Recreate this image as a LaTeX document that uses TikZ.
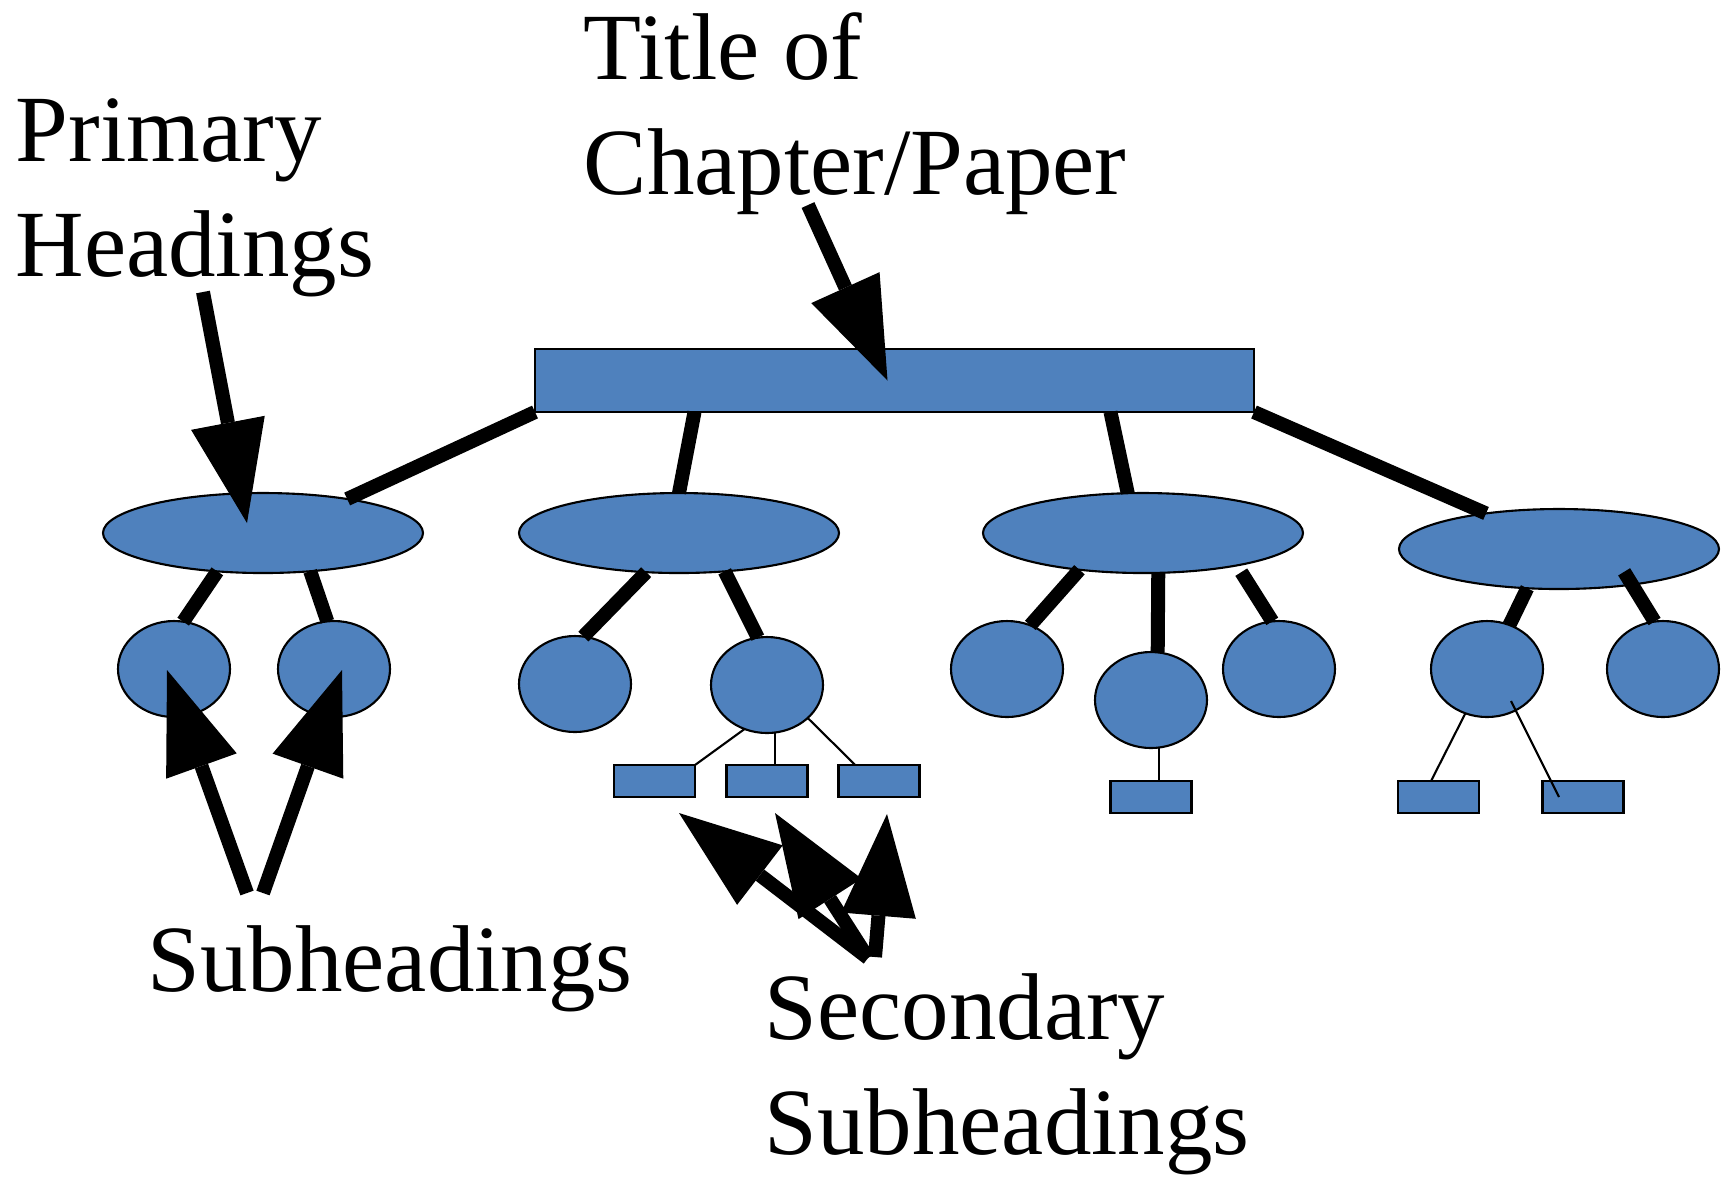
\documentclass[tikz,border=0pt]{standalone}
\usepackage{fontspec}
\setmainfont{Liberation Serif}
\usetikzlibrary{shapes.geometric,arrows.meta,calc}
\definecolor{nodeblue}{HTML}{4F81BD}

\begin{document}
\begin{tikzpicture}[x=0.1mm, y=-0.1mm,
    shapebox/.style={draw, fill=nodeblue, line width=0.6pt, inner sep=0pt, outer sep=0pt},
    headnode/.style={shapebox, ellipse, minimum width=32mm, minimum height=8mm},
    subnode/.style={shapebox, ellipse, minimum width=11.2mm, minimum height=9.6mm},
    leafnode/.style={shapebox, rectangle, minimum width=8.1mm, minimum height=3.2mm},
    thickline/.style={line width=1.4mm},
    thinline/.style={line width=0.6pt},
    pointer/.style={line width=1.4mm, -{Triangle[length=10.2mm, width=7.5mm, line width=0pt]}},
    caption/.style={font=\fontsize{27}{32.7}\selectfont, inner sep=0pt, anchor=base west, align=left}]
  \useasboundingbox (0,0) rectangle (1730,1181);

  \node[shapebox, minimum width=71.9mm, minimum height=6.3mm] (bar) at (894.5,380.5) {};

  \node[headnode] (e1) at (263,533) {};
  \node[headnode] (e2) at (679,533) {};
  \node[headnode] (e3) at (1143,533) {};
  \node[headnode] (e4) at (1559,549) {};

  \node[subnode] (c11) at (174,669) {};
  \node[subnode] (c12) at (334,669) {};
  \node[subnode] (c21) at (575,684) {};
  \node[subnode] (c22) at (767,685) {};
  \node[subnode] (c31) at (1007,669) {};
  \node[subnode] (c32) at (1151,700) {};
  \node[subnode] (c33) at (1279,669) {};
  \node[subnode] (c41) at (1487,669) {};
  \node[subnode] (c42) at (1663,669) {};

  \node[leafnode] (r1) at (654.5,781) {};
  \node[leafnode] (r2) at (767,781) {};
  \node[leafnode] (r3) at (879,781) {};
  \node[leafnode] (r4) at (1151,797) {};
  \node[leafnode] (r5) at (1438.5,797) {};
  \node[leafnode] (r6) at (1583,797) {};

  \draw[thickline] (bar.south west) -- (e1.22);
  \draw[thickline] ([xshift=-20mm]bar.south) -- (e2.north);
  \draw[thickline] ([xshift=21.6mm]bar.south) -- (e3.111);
  \draw[thickline] (bar.south east) -- (e4.154);

  \draw[thickline] (e1.220) -- (c11.79);
  \draw[thickline] (e1.321) -- (c12.98);
  \draw[thickline] (e2.230) -- (c21.80);
  \draw[thickline] (e2.320) -- (c22.101);
  \draw[thickline] (e3.210) -- (c31.62);
  \draw[thickline] (e3.291) -- (c32.82);
  \draw[thickline, shorten <=0.8mm] (e3.341) -- (c33.98);
  \draw[thickline] (e4.231) -- (c41.63);
  \draw[thickline, shorten <=-1.5mm] (e4.334) -- (c42.100);

  \draw[thinline] (c22.243) -- (r1.north east);
  \draw[thinline] (c22.280) -- (c22.280 |- r2.north);
  \draw[thinline] (c22.321) -- (r3.146);
  \draw[thinline] (c32.280) -- (c32.280 |- r4.north);
  \draw[thinline] (c41.244) -- (r5.115);
  \draw[thinline] ($(c41)+(24,32)$) -- ($(r6)+(-24,0)$);

  \node[caption] (title) at (583,194) {Title of\\Chapter/Paper};
  \node[caption] (primary) at (15,276) {Primary\\Headings};
  \node[caption] (subs) at (147,991) {Subheadings};
  \node[caption] (secondary) at (764,1154) {Secondary\\Subheadings};

  \coordinate (title-tail) at (808,205);
  \coordinate (primary-tail) at (203,292);
  \coordinate (sub-tail-l) at (247,893);
  \coordinate (sub-tail-r) at (263,893);
  \coordinate (sec-tail) at (868,958);
  \coordinate (sec-tail-c) at (875,957);

  \draw[pointer] (title-tail) -- ($(bar)+(-7,0)$);
  \draw[pointer] (primary-tail) -- ($(e1)+(-16,-10)$);
  \draw[pointer] (sub-tail-l) -- ($(c11)+(-7,1)$);
  \draw[pointer] (sub-tail-r) -- ($(c12)+(8,1)$);
  \draw[pointer] (sec-tail) -- ($(r1.south)+(24.5,16)$);
  \draw[pointer] (sec-tail) -- ($(r2.south)+(8,16)$);
  \draw[pointer] (sec-tail-c) -- ($(r3.south)+(8,17)$);
\end{tikzpicture}
\end{document}
